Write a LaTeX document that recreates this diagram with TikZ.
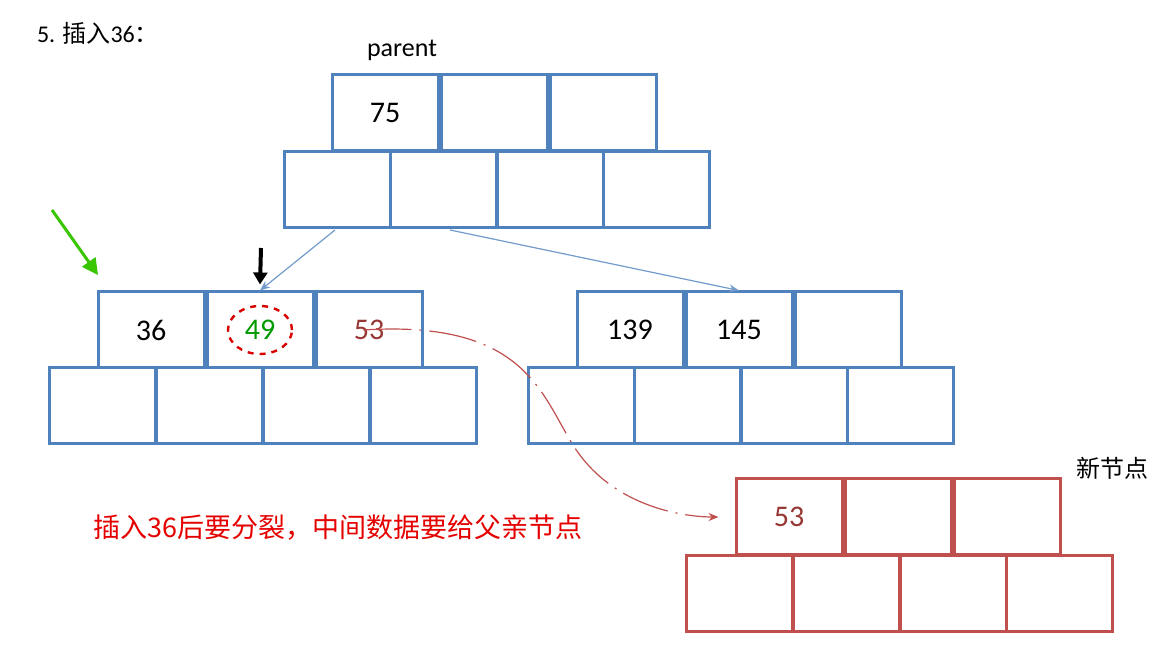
\documentclass[tikz,border=0pt]{standalone}
\usepackage{fontspec}
\setmainfont{Carlito}
\newfontfamily\cjk{Noto Sans CJK SC}
\usetikzlibrary{arrows.meta,positioning,shapes.geometric}
\definecolor{boxblue}{RGB}{79,129,189}
\definecolor{boxred}{RGB}{192,80,77}
\definecolor{keyred}{RGB}{150,55,52}
\tikzset{
  cell/.style = {draw=boxblue, line width=1.5pt, minimum width=53pt, minimum height=38pt, inner sep=0pt, font=\fontsize{15}{15}\selectfont},
  rcell/.style = {cell, draw=boxred},
  link/.style = {-{Stealth[length=5pt,width=4pt]}, draw=boxblue!80, line width=0.6pt},
}
\begin{document}
\begin{tikzpicture}[x=0.5pt,y=-0.5pt]
\useasboundingbox (0,0) rectangle (1169,646);

% parent node
\node[cell] (p1) at (385,113) {75};
\node[cell] (p2) [right=0pt of p1] {};
\node[cell] (p3) [right=0pt of p2] {};
\foreach \i/\x in {1/337,2/443,3/550,4/656}
  \node[cell] (pc\i) at (\x,190) {};
\node[font=\fontsize{13}{13}\selectfont] (parent) at (402,50) {parent};

% left child
\node[cell] (l1) at (151,330) {36};
\node[cell] (l2) [right=0pt of l1] {};
\node[cell, text=keyred] (l3) [right=0pt of l2] {53};
\foreach \i/\x in {1/102,2/209,3/316,4/423}
  \node[cell] (lc\i) at (\x,406) {};
\node[draw=red!85!black, dashed, line width=1.2pt, ellipse, minimum width=32pt, minimum height=24pt, inner sep=0pt,
  text=green!60!black, font=\fontsize{15}{15}\selectfont] (mid) at (l2) {49};

% right child
\node[cell] (r1) at (630,330) {139};
\node[cell] (r2) [right=0pt of r1] {145};
\node[cell] (r3) [right=0pt of r2] {};
\foreach \i/\x in {1/581,2/687,3/794,4/900}
  \node[cell] (rc\i) at (\x,406) {};

% new node
\node[rcell, text=keyred] (n1) at (789,517) {53};
\node[rcell] (n2) [right=0pt of n1] {};
\node[rcell] (n3) [right=0pt of n2] {};
\foreach \i/\x in {1/739,2/846,3/953,4/1059}
  \node[rcell] (nc\i) at (\x,594) {};
\node[font=\cjk\fontsize{12}{12}\selectfont] (newlbl) at (1112,468) {新节点};

% texts
\node[anchor=west, font=\fontsize{12}{12}\selectfont] (title) at (30,33) {5. {\cjk 插入}36{\cjk ：}};
\node[anchor=west, text=red!90!black, font=\cjk\fontsize{13.5}{13.5}\selectfont] (note) at (86,528) {插入36后要分裂，中间数据要给父亲节点};

% links
\coordinate (pa) at (335,230);
\coordinate (pb) at (450,230);
\draw[link] (pa) -- (l2.north);
\draw[link] (pb) -- (r2.north);
\draw[boxred, line width=0.6pt, dash pattern=on 24pt off 4pt on 1pt off 4pt, -{Stealth[length=5pt,width=4pt]}]
  ([xshift=-30pt]l3.east) .. controls (520,320) and (540,390) .. (570,440)
  .. controls (610,510) and (690,517) .. ([xshift=-8pt]n1.west);

% markers
\coordinate (dn) at (261,248);
\draw[-{Triangle[length=6pt,width=7pt]}, line width=2pt] (dn) -- ([yshift=3pt]l2.north);
\coordinate (ga) at (52,210);
\coordinate (gb) at (98,275);
\draw[-{Triangle[length=8pt,width=8pt]}, draw=green!55!olive, line width=1.5pt] (ga) -- (gb);
\end{tikzpicture}
\end{document}
